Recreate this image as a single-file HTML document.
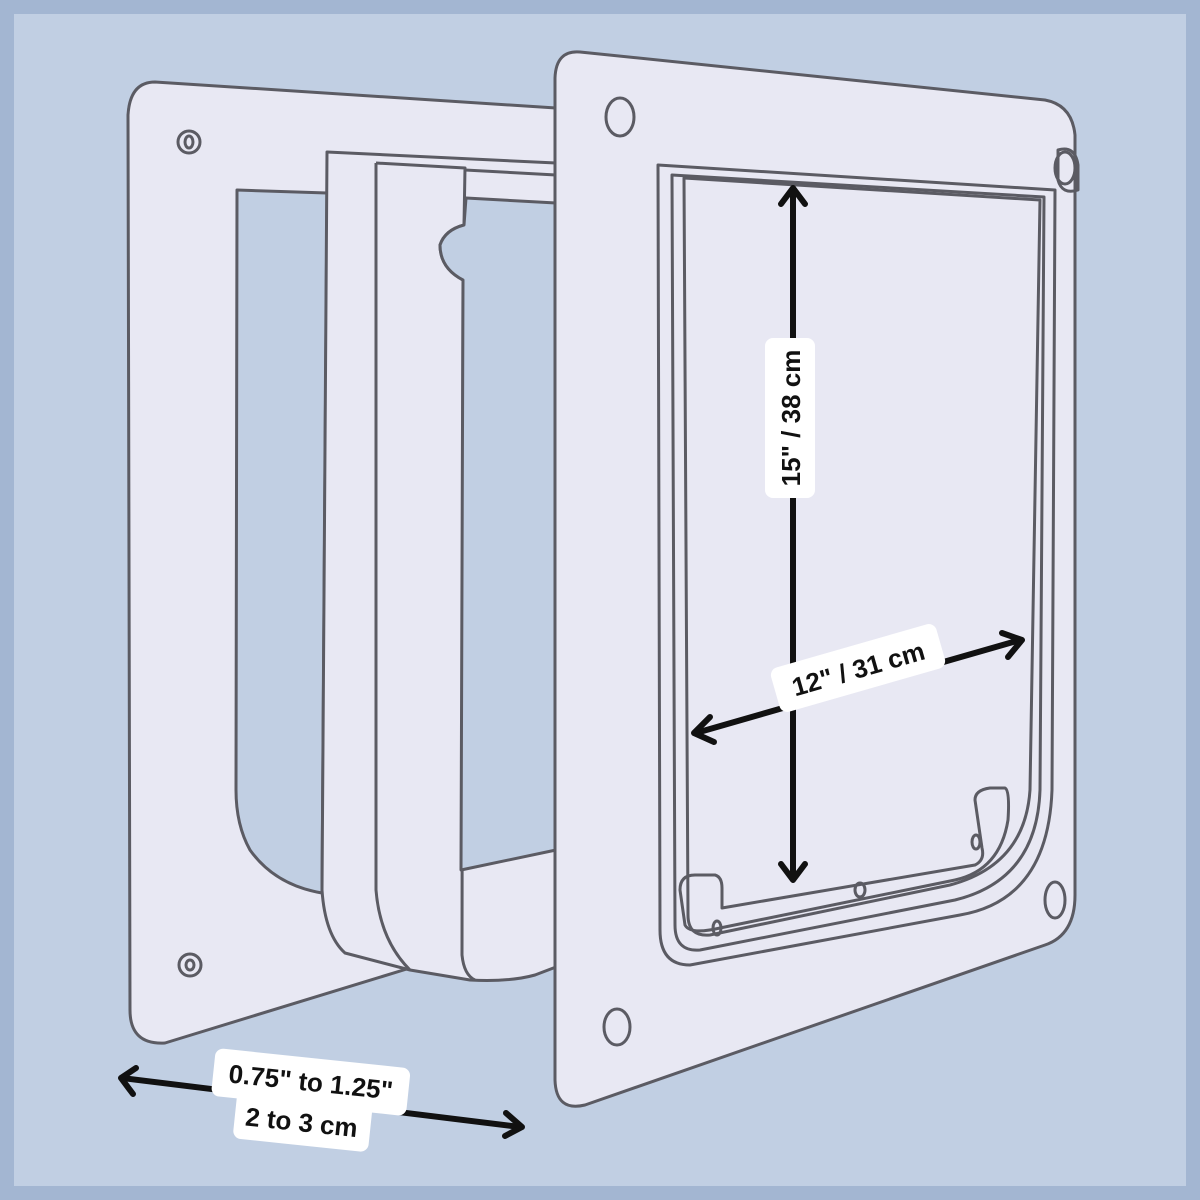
<!DOCTYPE html>
<html><head><style>
html,body{margin:0;padding:0;background:#a3b6d2;}
svg{display:block}
text{font-family:"Liberation Sans",sans-serif;font-weight:bold;fill:#111}
</style></head><body>
<svg width="1200" height="1200" viewBox="0 0 1200 1200">
<rect x="0" y="0" width="1200" height="1200" fill="#a3b6d2"/>
<rect x="14" y="14" width="1172" height="1172" fill="#c1cfe3"/>
<g stroke="#5b5b63" stroke-width="3" stroke-linejoin="round" fill="#e8e8f3">
<!-- left plate -->
<path d="M155,82 L556,108 L556,965 L410,968 L165,1043 Q130,1045 130,1010 L128,115 Q130,82 155,82 Z"/>
<path d="M237,190 L327,193 L322,893 Q275,885 250,850 Q236,825 236,790 Z" fill="#c1cfe3"/>
<circle cx="189" cy="142" r="11" fill="none"/><ellipse cx="189" cy="142" rx="4" ry="6" fill="none"/>
<circle cx="190" cy="965" r="11" fill="none"/><ellipse cx="190" cy="965" rx="4" ry="5" fill="none"/>
<!-- tunnel -->
<path d="M327,152 L556,163 L556,967 L535,975 Q510,982 470,980 L410,970 L345,953 Q325,935 322,890 Z"/>
<path d="M376,163 L376,890 Q380,940 410,970" fill="none"/>
<path d="M376,163 L465,168 L464,225 Q445,230 440,245 Q440,268 463,280 L462,955 Q464,975 475,980" fill="none"/>
<path d="M466,198 L556,203 L556,850 L461,870 L463,280 Q440,268 440,245 Q445,230 464,225 Z" fill="#c1cfe3"/>
<path d="M465,170 L556,175" fill="none"/>
<!-- right plate -->
<path d="M580,52 L1045,100 Q1072,105 1075,135 L1075,895 Q1075,935 1045,945 L585,1105 Q556,1112 555,1080 L555,78 Q556,50 580,52 Z"/>
<path d="M1058,150 Q1075,145 1078,165 L1078,190 Q1062,195 1058,180 Z" fill="none"/>
<ellipse cx="620" cy="117" rx="14" ry="19" fill="none"/>
<ellipse cx="1065" cy="168" rx="10" ry="16" fill="none"/>
<ellipse cx="1055" cy="900" rx="10" ry="18" fill="none"/>
<ellipse cx="617" cy="1027" rx="13" ry="18" fill="none"/>
<!-- flap frame -->
<path d="M658,165 L1055,190 L1052,790 Q1048,900 960,915 L690,965 Q660,965 660,930 Z" fill="#e8e8f3"/>
<path d="M672,175 L1044,197 L1040,790 Q1037,880 955,900 L700,950 Q675,952 675,925 Z" fill="none"/>
<path d="M684,178 L1040,200 L1030,790 Q1025,865 950,885 L710,935 Q688,937 688,915 Z" fill="none"/>
<path d="M680,890 Q680,875 695,875 L715,875 Q722,877 722,888 L722,908 L975,865 Q985,860 982,848 L975,800 Q975,790 990,788 L1005,788 Q1010,790 1008,820 Q1000,870 955,880 L720,928 Q690,935 685,925 Z" fill="none"/>
<ellipse cx="717" cy="928" rx="4" ry="7" fill="none"/>
<ellipse cx="860" cy="890" rx="5" ry="7" fill="none"/>
<ellipse cx="976" cy="842" rx="4" ry="7" fill="none"/>
</g>
<!-- arrows -->
<g stroke="#111" stroke-width="6" fill="none" stroke-linecap="round" stroke-linejoin="round">
<line x1="793" y1="190" x2="793" y2="878"/>
<polyline points="781,204 793,188 805,204"/>
<polyline points="781,864 793,880 805,864"/>
<line x1="696" y1="733" x2="1020" y2="640"/>
<polyline points="710,717 694,733 714,742"/>
<polyline points="1002,633 1022,640 1008,657"/>
<line x1="122" y1="1078" x2="520" y2="1127"/>
<polyline points="136,1068 121,1078 133,1094"/>
<polyline points="506,1113 522,1127 505,1136"/>
</g>
<!-- labels -->
<g transform="translate(790,418) rotate(-90)">
<rect x="-80" y="-25" width="160" height="50" rx="8" fill="#fff"/>
<text x="0" y="10" font-size="26" text-anchor="middle">15" / 38 cm</text>
</g>
<g transform="translate(858,668) rotate(-16)">
<rect x="-86" y="-23" width="172" height="46" rx="8" fill="#fff"/>
<text x="0" y="10" font-size="26" text-anchor="middle">12"  / 31 cm</text>
</g>
<g transform="translate(310,1090) rotate(6)">
<rect x="-98" y="-32" width="196" height="48" rx="8" fill="#fff"/>
<rect x="-72" y="4" width="136" height="52" rx="8" fill="#fff"/>
<text x="0" y="1" font-size="26" text-anchor="middle">0.75" to 1.25"</text>
<text x="-5" y="42" font-size="26" text-anchor="middle">2 to 3 cm</text>
</g>
</svg>
</body></html>
